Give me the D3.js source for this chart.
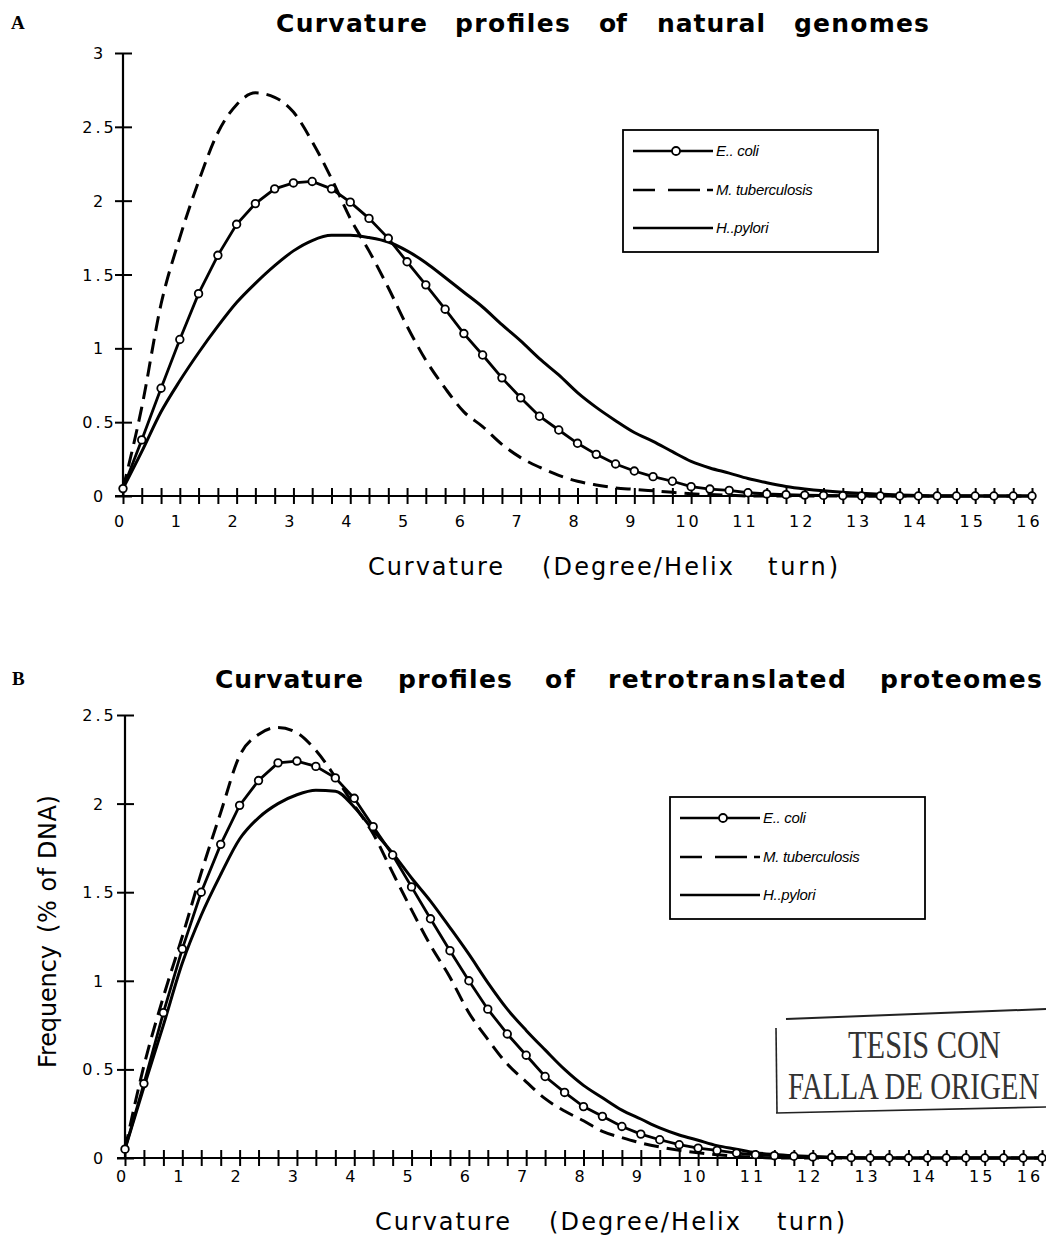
<!DOCTYPE html>
<html>
<head>
<meta charset="utf-8">
<script src="https://cdn.jsdelivr.net/npm/d3@7"></script>
<style>
  html, body { margin: 0; padding: 0; background: #fff; }
  svg { display: block; }
</style>
</head>
<body>
<svg id="chart" width="1046" height="1235"></svg>
<script>
// ---------------- DATA ----------------
const curvature = [0, 0.33, 0.67, 1, 1.33, 1.67, 2, 2.33, 2.67, 3, 3.33, 3.67, 4, 4.33, 4.67, 5, 5.33, 5.67,
  6, 6.33, 6.67, 7, 7.33, 7.67, 8, 8.33, 8.67, 9, 9.33, 9.67, 10, 10.33, 10.67, 11, 11.33, 11.67,
  12, 12.33, 12.67, 13, 13.33, 13.67, 14, 14.33, 14.67, 15, 15.33, 15.67, 16];
const xTickLabels = [0, 1, 2, 3, 4, 5, 6, 7, 8, 9, 10, 11, 12, 13, 14, 15, 16];
const yTicksA = [0, 0.5, 1, 1.5, 2, 2.5, 3];
const yTicksB = [0, 0.5, 1, 1.5, 2, 2.5];
const seriesNames = ["E.. coli", "M. tuberculosis", "H..pylori"];

// Panel A : natural genomes
const ecoliA = [0.05, 0.38, 0.73, 1.06, 1.37, 1.63, 1.84, 1.98, 2.08, 2.12, 2.13, 2.08, 1.99, 1.88, 1.745, 1.586, 1.43, 1.265,
  1.10, 0.955, 0.80, 0.665, 0.54, 0.447, 0.357, 0.282, 0.217, 0.169, 0.131, 0.10, 0.063, 0.047, 0.038, 0.022, 0.014, 0.009,
  0.006, 0.004, 0.002, 0, 0, 0, 0, 0, 0, 0, 0, 0, 0];
const mtbA = [0.05, 0.6, 1.3, 1.75, 2.13, 2.46, 2.65, 2.73, 2.70, 2.60, 2.40, 2.15, 1.88, 1.66, 1.41, 1.15, 0.92, 0.73,
  0.57, 0.47, 0.35, 0.26, 0.195, 0.14, 0.10, 0.075, 0.055, 0.045, 0.035, 0.025, 0.015, 0.01, 0.005, 0, 0, 0,
  0, 0, 0, 0, 0, 0, 0, 0, 0, 0, 0, 0, 0];
const hpyA = [0.05, 0.3, 0.57, 0.78, 0.97, 1.15, 1.31, 1.44, 1.56, 1.66, 1.73, 1.765, 1.765, 1.75, 1.72, 1.66, 1.58, 1.48,
  1.38, 1.28, 1.16, 1.05, 0.93, 0.82, 0.70, 0.60, 0.51, 0.43, 0.37, 0.30, 0.235, 0.19, 0.155, 0.118, 0.09, 0.065,
  0.048, 0.035, 0.025, 0.018, 0.012, 0.007, 0.004, 0, 0, 0, 0, 0, 0];

// Panel B : retrotranslated proteomes
const ecoliB = [0.05, 0.42, 0.82, 1.18, 1.50, 1.77, 1.99, 2.13, 2.23, 2.24, 2.21, 2.145, 2.03, 1.87, 1.71, 1.53, 1.35, 1.17,
  1.0, 0.84, 0.70, 0.58, 0.46, 0.37, 0.29, 0.235, 0.178, 0.135, 0.103, 0.075, 0.056, 0.043, 0.028, 0.019, 0.013, 0.01,
  0.006, 0.004, 0.002, 0, 0, 0, 0, 0, 0, 0, 0, 0, 0];
const mtbB = [0.05, 0.52, 0.91, 1.25, 1.61, 1.95, 2.27, 2.39, 2.43, 2.40, 2.30, 2.15, 1.99, 1.83, 1.61, 1.40, 1.20, 1.02,
  0.82, 0.67, 0.53, 0.43, 0.335, 0.265, 0.21, 0.15, 0.115, 0.085, 0.062, 0.043, 0.029, 0.018, 0.01, 0.005, 0, 0,
  0, 0, 0, 0, 0, 0, 0, 0, 0, 0, 0, 0, 0];
const hpyB = [0.05, 0.40, 0.75, 1.10, 1.37, 1.60, 1.80, 1.92, 2.00, 2.05, 2.075, 2.07, 1.98, 1.85, 1.72, 1.58, 1.45, 1.30,
  1.15, 0.99, 0.84, 0.72, 0.61, 0.50, 0.41, 0.34, 0.27, 0.22, 0.17, 0.13, 0.10, 0.07, 0.05, 0.03, 0.02, 0.013,
  0.008, 0.004, 0, 0, 0, 0, 0, 0, 0, 0, 0, 0, 0];

const titleA = ["Curvature", "profiles", "of", "natural", "genomes"];
const titleB = ["Curvature", "profiles", "of", "retrotranslated", "proteomes"];
const xTitle = ["Curvature", "(Degree/Helix", "turn)"];
const yTitle = ["Frequency", "(% of DNA)"];
const stampLines = ["TESIS CON", "FALLA DE ORIGEN"];

// ---------------- LAYOUT ----------------
const svg = d3.select("#chart");
svg.append("rect").attr("width", 1046).attr("height", 1235).attr("fill", "#fff");

svg.append("style").text(`
  .ttl { font-family: 'DejaVu Sans'; font-weight: bold; font-size: 25px; fill: #000; }
  .axt { font-family: 'DejaVu Sans'; font-size: 24px; fill: #000; }
  .pl  { font-family: 'Liberation Serif'; font-weight: bold; font-size: 19px; fill: #000; }
  .tk  { font-family: 'DejaVu Sans'; font-size: 16px; letter-spacing: 3px; fill: #000; }
  .lg  { font-family: 'Liberation Sans'; font-style: italic; font-size: 15px; letter-spacing: -0.3px; fill: #000; }
`);

function drawWords(words, layout, baseline, cls) {
  words.forEach((w, i) => {
    svg.append("text")
      .attr("x", layout[i][0]).attr("y", baseline)
      .attr("textLength", layout[i][1]).attr("lengthAdjust", "spacing")
      .attr("class", cls)
      .text(w);
  });
}

function panel(cfg) {
  const x = d3.scaleLinear().domain([0, 16]).range([cfg.x0, cfg.x1]);
  const y = d3.scaleLinear().domain([0, cfg.ymax]).range([cfg.yb, cfg.yt]);
  const g = svg.append("g");

  // x axis
  const xa = g.append("g").attr("transform", `translate(0,${cfg.yb})`)
    .call(d3.axisBottom(x).tickValues(curvature).tickSize(8).tickFormat(""));
  xa.select(".domain").remove();
  xa.selectAll(".tick line").attr("y1", -8).attr("y2", 8).attr("stroke", "#000").attr("stroke-width", 2);
  g.append("line").attr("x1", cfg.x0 - 8).attr("x2", x(16) + 3)
    .attr("y1", cfg.yb).attr("y2", cfg.yb).attr("stroke", "#000").attr("stroke-width", 2);

  g.selectAll(".xlab").data(xTickLabels).join("text")
    .attr("class", "tk")
    .attr("x", d => Math.min(x(d) - 2.5, 1030))
    .attr("y", cfg.yb + cfg.labDy)
    .attr("text-anchor", "middle")
    .text(d => d);

  // y axis
  const ya = g.append("g").attr("transform", `translate(${cfg.x0},0)`)
    .call(d3.axisLeft(y).tickValues(cfg.yticks).tickSize(8).tickFormat(""));
  ya.select(".domain").remove();
  ya.selectAll(".tick line").attr("x1", -8).attr("x2", 9).attr("stroke", "#000").attr("stroke-width", 2);
  g.append("line").attr("x1", cfg.x0).attr("x2", cfg.x0)
    .attr("y1", cfg.yt).attr("y2", cfg.yb).attr("stroke", "#000").attr("stroke-width", 2.2);
  g.selectAll(".ylab").data(cfg.yticks).join("text")
    .attr("class", "tk")
    .attr("x", 99.5).attr("y", d => y(d) + 6)
    .attr("text-anchor", "middle")
    .text(d => d);

  const pts = arr => arr.map((v, i) => [curvature[i], v]);
  const line = d3.line().x(d => x(d[0])).y(d => y(d[1])).curve(d3.curveMonotoneX);

  g.append("path").attr("d", line(pts(cfg.hpy))).attr("fill", "none")
    .attr("stroke", "#000").attr("stroke-width", 3);
  g.append("path").attr("d", line(pts(cfg.mtb))).attr("fill", "none")
    .attr("stroke", "#000").attr("stroke-width", 3).attr("stroke-dasharray", "15,8");
  g.append("path").attr("d", d3.line().x(d => x(d[0])).y(d => y(d[1]))(pts(cfg.ecoli))).attr("fill", "none")
    .attr("stroke", "#000").attr("stroke-width", 2.8);
  g.selectAll(".mk").data(pts(cfg.ecoli)).join("circle")
    .attr("cx", d => x(d[0])).attr("cy", d => y(d[1])).attr("r", 3.8)
    .attr("fill", "#fff").attr("stroke", "#000").attr("stroke-width", 1.8);

  // legend
  const L = g.append("g").attr("transform", `translate(${cfg.lx},${cfg.ly})`);
  L.append("rect").attr("width", 255).attr("height", 122).attr("fill", "#fff")
    .attr("stroke", "#000").attr("stroke-width", 1.8);
  const rows = [21, 60, 98];
  L.append("line").attr("x1", 10).attr("x2", 90).attr("y1", rows[0]).attr("y2", rows[0])
    .attr("stroke", "#000").attr("stroke-width", 2.5);
  L.append("circle").attr("cx", 53).attr("cy", rows[0]).attr("r", 4)
    .attr("fill", "#fff").attr("stroke", "#000").attr("stroke-width", 1.8);
  L.append("line").attr("x1", 10).attr("x2", 90).attr("y1", rows[1]).attr("y2", rows[1])
    .attr("stroke", "#000").attr("stroke-width", 2.6).attr("stroke-dasharray", "22,13,32,7,6");
  L.append("line").attr("x1", 10).attr("x2", 90).attr("y1", rows[2]).attr("y2", rows[2])
    .attr("stroke", "#000").attr("stroke-width", 2.6);
  seriesNames.forEach((s, i) => {
    L.append("text").attr("class", "lg").attr("x", 93).attr("y", rows[i] + 5).text(s);
  });
}

// Panel A
svg.append("text").attr("x", 11).attr("y", 29).attr("class", "pl").text("A");
drawWords(titleA, [[276, 151], [455, 115], [599, 28], [657, 108], [794, 135]], 32, "ttl");
panel({ x0: 123, x1: 1032, yb: 496, yt: 53, ymax: 3, yticks: yTicksA, labDy: 31,
        ecoli: ecoliA, mtb: mtbA, hpy: hpyA, lx: 623, ly: 130 });
drawWords(xTitle, [[368, 135], [542, 191], [768, 70]], 575, "axt");

// Panel B
svg.append("text").attr("x", 12).attr("y", 685).attr("class", "pl").text("B");
drawWords(titleB, [[215, 148], [398, 114], [545, 30], [608, 238], [880, 162]], 688, "ttl");
panel({ x0: 125, x1: 1042, yb: 1158, yt: 715, ymax: 2.5, yticks: yTicksB, labDy: 24,
        ecoli: ecoliB, mtb: mtbB, hpy: hpyB, lx: 670, ly: 797 });
drawWords(xTitle, [[375, 135], [549, 191], [777, 68]], 1230, "axt");

// Y axis title (panel B)
[[1068, 123], [933, 138]].forEach((p, i) => {
  svg.append("text").attr("transform", `translate(56,${p[0]}) rotate(-90)`)
    .attr("textLength", p[1]).attr("lengthAdjust", "spacing")
    .attr("class", "axt").text(yTitle[i]);
});

// Stamp
const st = svg.append("g");
st.append("line").attr("x1", 786).attr("y1", 1019).attr("x2", 1046).attr("y2", 1009)
  .attr("stroke", "#222").attr("stroke-width", 2);
st.append("line").attr("x1", 776).attr("y1", 1028).attr("x2", 777).attr("y2", 1113)
  .attr("stroke", "#222").attr("stroke-width", 1.6);
st.append("line").attr("x1", 776).attr("y1", 1113).attr("x2", 1046).attr("y2", 1107)
  .attr("stroke", "#222").attr("stroke-width", 1.6);
st.append("text").attr("transform", "translate(848,1058) scale(0.76,1)")
  .style("font-family", "Liberation Serif").style("font-size", "40px").attr("fill", "#333")
  .text(stampLines[0]);
st.append("text").attr("transform", "translate(788,1099) scale(0.76,1)")
  .style("font-family", "Liberation Serif").style("font-size", "38px").attr("fill", "#333")
  .text(stampLines[1]);
</script>
</body>
</html>
